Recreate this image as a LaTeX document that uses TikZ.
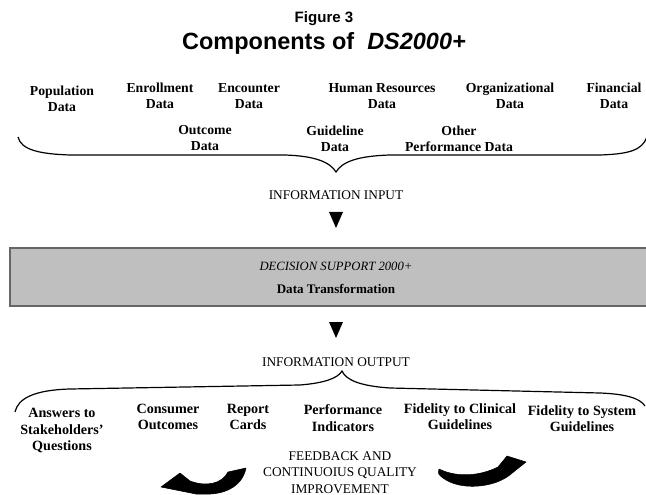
\documentclass[tikz,border=0pt]{standalone}
\usepackage{fontspec}
\setmainfont{Liberation Serif}
\setsansfont{Liberation Sans}
\begin{document}
\begin{tikzpicture}[x=0.75pt,y=-0.75pt,
  toplab/.style={font=\bfseries\fontsize{10.3}{12}\selectfont,align=center,inner sep=0pt},
  botlab/.style={font=\bfseries\fontsize{10.6}{12.2}\selectfont,align=center,inner sep=0pt},
  caplab/.style={font=\fontsize{10}{12.4}\selectfont,align=center,inner sep=0pt},
  brace/.style={line width=0.9pt,black},
  tri/.style={fill=black,draw=none},
  bigarrow/.style={fill=black,draw=black,line width=0.4pt,line join=round}]
\useasboundingbox (0,0) rectangle (646,495);
\fill[white] (0,0) rectangle (646,495);
% title
\node[font=\sffamily\bfseries\fontsize{11.3}{13}\selectfont,inner sep=0pt] (fig) at (324,19) {Figure 3};
\node[font=\sffamily\bfseries\fontsize{17.6}{20}\selectfont,inner sep=0pt] (title) at (324,43) {Components of\ \ \textit{DS2000+}};
% top labels
\node[toplab] (pop) at (62,99) {Population\\Data};
\node[toplab] (enr) at (160,96) {Enrollment\\Data};
\node[toplab] (enc) at (249,96) {Encounter\\Data};
\node[toplab] (hr) at (382,96) {Human Resources\\Data};
\node[toplab] (org) at (510,96) {Organizational\\Data};
\node[toplab] (fin) at (614,96) {Financial\\Data};
\node[toplab] (out) at (205,138.5) {Outcome\\Data};
\node[toplab] (gui) at (335,138.5) {Guideline\\Data};
\node[toplab] (oth) at (459,138.5) {Other\\Performance Data};
% brace 1
\coordinate (b1tip) at (336,172);
\draw[brace] (18,137) .. controls (21,150) and (40,154) .. (70,155) -- (285,155)
  .. controls (315,156) and (330,162) .. (b1tip)
  .. controls (342,162) and (357,156) .. (390,155) -- (600,155)
  .. controls (630,154) and (642,150) .. (647,137);
\node[caplab] (inp) at (336,195) {INFORMATION INPUT};
\fill[tri] (329,212) -- (343,212) -- (336,228) -- cycle;
% box
\node[draw=black!60,line width=1.2pt,fill=black!25,minimum width=480pt,minimum height=43.5pt,inner sep=0pt] (box) at (330,277) {};
\node[font=\itshape\fontsize{9.5}{11}\selectfont,inner sep=0pt] (ds) at (336,266) {DECISION SUPPORT 2000+};
\node[font=\bfseries\fontsize{9.8}{11}\selectfont,inner sep=0pt] (dt) at (336,289) {Data Transformation};
\fill[tri] (329,322) -- (343,322) -- (336,338) -- cycle;
\node[caplab] (outp) at (336,362) {INFORMATION OUTPUT};
% brace 2
\coordinate (b2tip) at (342,371);
\draw[brace] (15,412) .. controls (18,398) and (35,390) .. (70,389) -- (300,385)
  .. controls (325,383) and (338,378) .. (b2tip)
  .. controls (346,380) and (360,386) .. (390,388) -- (600,393)
  .. controls (625,394) and (640,398) .. (645,406);
% bottom labels
\node[botlab] (ans) at (62,430.5) {Answers to\\Stakeholders'\\Questions};
\node[botlab] (con) at (168,417) {Consumer\\Outcomes};
\node[botlab] (rep) at (248,417) {Report\\Cards};
\node[botlab] (per) at (343,418) {Performance\\Indicators};
\node[botlab] (fcl) at (460,417) {Fidelity to Clinical\\Guidelines};
\node[botlab] (fsy) at (582,419) {Fidelity to System\\Guidelines};
\node[caplab] (fb) at (340,472.5) {FEEDBACK AND\\CONTINUOIUS QUALITY\\IMPROVEMENT};
% curved arrows
\fill[bigarrow] (161,487) -- (180,473) -- (190,481)
  .. controls (206,487) and (222,484) .. (228,472)
  -- (246,468)
  .. controls (242,488) and (222,495) .. (204,494)
  -- (196,494) -- cycle;
\fill[bigarrow] (439,469) .. controls (455,477) and (478,477) .. (498,467)
  -- (507,456) -- (526,462) -- (511,474)
  .. controls (495,488) and (460,491) .. (443,478)
  .. controls (438,474) .. cycle;
\end{tikzpicture}
\end{document}
